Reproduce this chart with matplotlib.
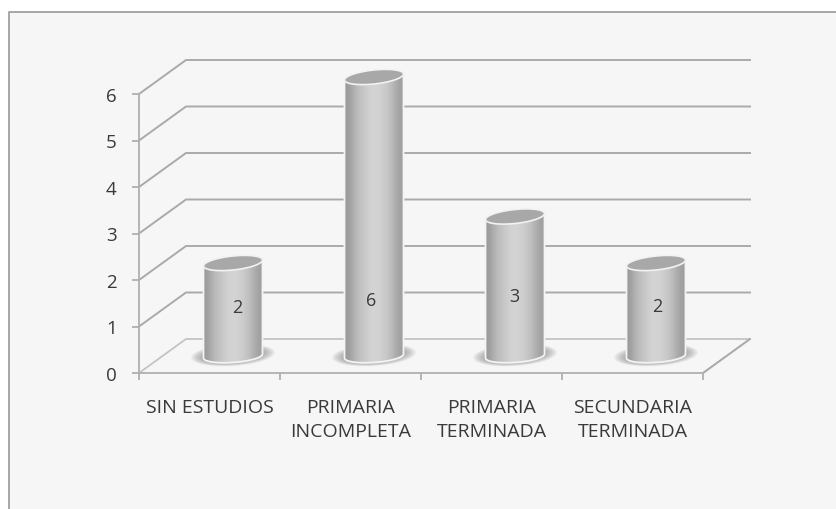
import numpy as np
import matplotlib
matplotlib.use("Agg")
import matplotlib.pyplot as plt
from matplotlib.patches import Polygon, Rectangle
from matplotlib.lines import Line2D

categorias = ["SIN ESTUDIOS", "PRIMARIA\nINCOMPLETA", "PRIMARIA\nTERMINADA", "SECUNDARIA\nTERMINADA"]
valores = [2, 6, 3, 2]
ticks_y = [0, 1, 2, 3, 4, 5, 6]

plt.rcParams["font.family"] = ["Open Sans", "DejaVu Sans"]
gris_texto = "#3a3a3a"
gris_linea = "#aaaaaa"

fig = plt.figure(figsize=(8.36, 5.10), dpi=100, facecolor="white")

# fondo y marco: solo hay linea arriba y a la izquierda
fig.add_artist(Rectangle((9 / 836, 0), 827 / 836, 1 - 13 / 510, transform=fig.transFigure,
                         facecolor="#f6f6f6", edgecolor="none", zorder=-2))
fig.add_artist(Line2D([9 / 836, 9 / 836, 1], [0, 1 - 13 / 510, 1 - 13 / 510], transform=fig.transFigure,
                      color="#a0a0a0", lw=1.3, zorder=-1))

ax = fig.add_axes([139 / 836, 1 - 374 / 510, 564 / 836, 279 / 510])
ax.set_xlim(0, 4)
ax.set_ylim(0, 6)
ax.patch.set_visible(False)

# profundidad del grafico 3D, en unidades de los ejes
dx = 47 / 141
dy = 34 / 46.5
px_x = 1 / 141
px_y = 1 / 46.5

for s in ["top", "right"]:
    ax.spines[s].set_visible(False)
for s in ["left", "bottom"]:
    ax.spines[s].set_color("#b0b0b0")
    ax.spines[s].set_linewidth(1.3)

# lineas de division: pared izquierda y pared del fondo
for v in ticks_y[1:]:
    ax.plot([0, dx, 4 + dx], [v, v + dy, v + dy], color=gris_linea, lw=1.4, clip_on=False, zorder=1)
ax.plot([0, dx, 4 + dx, 4], [0, dy, dy, 0], color="#c4c4c4", lw=1.3, clip_on=False, zorder=1)


def elipse(cx, cy, a, b, incl, t):
    # elipse inclinada: la derecha queda mas alta
    return np.column_stack([cx + a * px_x * np.cos(t), cy + (b * np.sin(t) + incl * np.cos(t)) * px_y])


# cilindros
gradiente = np.array([0.60, 0.66, 0.72, 0.76, 0.79, 0.82, 0.83, 0.82, 0.80, 0.77, 0.72, 0.66, 0.62]).reshape(1, -1)
pos_etiquetas = [(237, 308), (371, 301), (514, 297), (657, 307)]
vuelta = np.linspace(0, 2 * np.pi, 60)
abajo = np.linspace(np.pi, 2 * np.pi, 40)

for i, v in enumerate(valores):
    cx = i + 0.5 + dx / 2
    base = dy / 2
    tope = v + dy / 2

    # sombra en el piso
    for k in np.linspace(1.0, 0.72, 9):
        ax.add_patch(Polygon(elipse(cx, base + 1 * px_y, 42 * k, 11 * k, 2.5, vuelta), facecolor="#707070",
                             edgecolor="none", alpha=0.08, zorder=2, clip_on=False))

    contorno = np.vstack([elipse(cx, base, 29.5, 6.5, 2, abajo), elipse(cx, tope, 29.5, 7, 3, np.array([0.0, np.pi]))])
    cuerpo = Polygon(contorno, closed=True, facecolor="none", edgecolor="#f4f4f4", lw=1.3, zorder=4, clip_on=False)
    ax.add_patch(cuerpo)
    im = ax.imshow(gradiente, cmap="gray", vmin=0, vmax=1, aspect="auto", interpolation="bicubic",
                   extent=[cx - 29.5 * px_x, cx + 29.5 * px_x, base - 12 * px_y, tope + 8 * px_y], zorder=3)
    im.set_clip_box(fig.bbox)
    im.set_clip_path(cuerpo)
    ax.add_patch(Polygon(elipse(cx, tope, 29.5, 7, 3, vuelta), facecolor="#a8a8a8", edgecolor="#f2f2f2", lw=1.2,
                         zorder=5, clip_on=False))

    px, py = pos_etiquetas[i]
    fig.text(px / 836, 1 - py / 510, str(v), ha="center", va="center", fontsize=13, color=gris_texto, zorder=6)

ax.set_xlim(0, 4)
ax.set_ylim(0, 6)

# piso, borde derecho
ax.plot([4, 4 + dx], [0, dy], color=gris_linea, lw=1.3, clip_on=False, zorder=1)

ax.set_yticks(ticks_y)
ax.tick_params(axis="y", length=5, width=1.2, color=gris_linea, labelsize=13.5, labelcolor=gris_texto, pad=11)
ax.set_xticks([0, 1, 2, 3, 4])
ax.set_xticklabels([])
ax.tick_params(axis="x", which="major", length=5, width=1.2, color=gris_linea)
ax.set_xticks([0.5, 1.5, 2.5, 3.5], minor=True)
ax.set_xticklabels(categorias, minor=True, fontsize=14, color=gris_texto, linespacing=1.42)
ax.tick_params(axis="x", which="minor", length=0, pad=18)

fig.savefig("out.png", dpi=100, facecolor="white")
